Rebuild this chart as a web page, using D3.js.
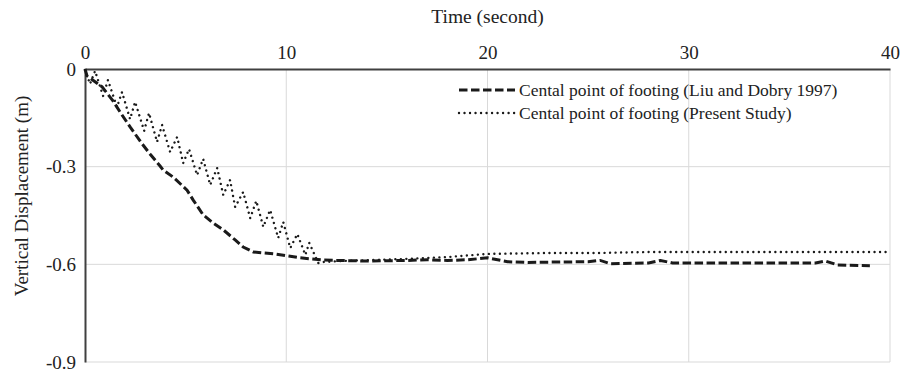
<!DOCTYPE html>
<html lang="en">
<head>
<meta charset="utf-8">
<title>Vertical displacement</title>
<script src="https://d3js.org/d3.v7.min.js"></script>
<style>
body { margin: 0; background: #fff; }
svg text { font-family: "Liberation Serif", "Times New Roman", serif; fill: #222; }
.grid line { stroke: #d9d9d9; stroke-width: 1; }
</style>
</head>
<body>
<script>
// time (s) and displacement (m)
var liuTime = [0, 0.1, 0.85, 1.39, 1.74, 2.24, 2.84, 3.23, 3.73, 3.88, 4.38, 5.07, 5.37, 5.87, 6.37, 6.87,
  7.46, 7.86, 8.36, 8.86, 9.45, 10.05, 10.7, 11.84, 14, 16, 17, 18, 19, 20, 21, 22, 25, 25.6, 26.1,
  28, 28.6, 29.2, 33, 36.3, 36.8, 37.4, 39];
var liuDisp = [0, -0.021, -0.055, -0.098, -0.132, -0.178, -0.23, -0.261, -0.298, -0.31, -0.332, -0.372,
  -0.402, -0.448, -0.473, -0.494, -0.525, -0.547, -0.562, -0.565, -0.568, -0.574, -0.58, -0.587,
  -0.59, -0.588, -0.586, -0.588, -0.586, -0.58, -0.592, -0.594, -0.592, -0.588, -0.598, -0.596,
  -0.588, -0.596, -0.596, -0.596, -0.59, -0.602, -0.604];

var presentTime = [0, 0.25, 0.5, 0.9, 1.14, 1.59, 1.84, 2.24, 2.49, 2.94, 3.18, 3.58, 3.83, 4.23, 4.58,
  4.88, 5.17, 5.57, 5.87, 6.22, 6.57, 6.87, 7.21, 7.46, 7.86, 8.21, 8.51, 8.86, 9.2, 9.6, 9.85,
  10.2, 10.55, 10.95, 11.14, 11.59, 11.84, 12.69, 15.67, 18.16, 20, 23.1, 25.6, 28.1, 40];
var presentDisp = [-0.003, -0.046, -0.006, -0.083, -0.034, -0.117, -0.071, -0.154, -0.101, -0.19,
  -0.135, -0.224, -0.172, -0.255, -0.209, -0.289, -0.246, -0.326, -0.276, -0.356, -0.304, -0.387,
  -0.341, -0.424, -0.378, -0.458, -0.405, -0.485, -0.433, -0.519, -0.47, -0.55, -0.507, -0.571,
  -0.534, -0.596, -0.593, -0.59, -0.584, -0.577, -0.568, -0.565, -0.565, -0.562, -0.562];

var xTicks = [0, 10, 20, 30, 40];
var yTicks = [0, -0.3, -0.6, -0.9];
var seriesNames = ["Cental point of footing (Liu and Dobry 1997)", "Cental point of footing (Present Study)"];

var w = 915, h = 371;
var padL = 85, padR = 890, padT = 69, padB = 362;

var svg = d3.select("body").append("svg")
  .attr("width", w)
  .attr("height", h);

var x = d3.scaleLinear().domain([0, 40]).range([padL, padR]);
var y = d3.scaleLinear().domain([0, -0.9]).range([padT, padB]);

// gridlines
var grid = svg.append("g").attr("class", "grid");
grid.selectAll("line.v")
  .data(xTicks.slice(1))
  .enter().append("line")
  .attr("class", "v")
  .attr("x1", function(d) { return x(d); })
  .attr("x2", function(d) { return x(d); })
  .attr("y1", padT)
  .attr("y2", padB);
grid.selectAll("line.h")
  .data(yTicks.slice(1))
  .enter().append("line")
  .attr("class", "h")
  .attr("x1", padL)
  .attr("x2", padR)
  .attr("y1", function(d) { return y(d); })
  .attr("y2", function(d) { return y(d); });

// axes
var xAxis = d3.axisTop(x).tickValues(xTicks).tickSize(0).tickPadding(10).tickFormat(d3.format("d"));
var yAxis = d3.axisLeft(y).tickValues(yTicks).tickSize(0).tickPadding(9)
  .tickFormat(function(d) { return d === 0 ? "0" : d3.format(".1f")(d).replace("\u2212", "-"); });

var gx = svg.append("g").attr("transform", "translate(0," + padT + ")").call(xAxis);
var gy = svg.append("g").attr("transform", "translate(" + padL + ",0)").call(yAxis);
[gx, gy].forEach(function(g) {
  g.select(".domain").attr("stroke", "#404040").attr("stroke-width", 2);
  g.selectAll("text").attr("font-family", "Liberation Serif").attr("font-size", 19).attr("fill", "#222");
});

svg.append("text")
  .attr("x", (padL + padR) / 2)
  .attr("y", 23)
  .attr("text-anchor", "middle")
  .attr("font-size", 19.5)
  .text("Time (second)");

svg.append("text")
  .attr("transform", "translate(28,196) rotate(-90)")
  .attr("text-anchor", "middle")
  .attr("font-size", 19)
  .text("Vertical Displacement (m)");

// lines
var line = d3.line()
  .x(function(d) { return x(d[0]); })
  .y(function(d) { return y(d[1]); });

svg.append("path")
  .datum(d3.zip(liuTime, liuDisp))
  .attr("d", line)
  .attr("fill", "none")
  .attr("stroke", "#1a1a1a")
  .attr("stroke-width", 3)
  .attr("stroke-dasharray", "8.5,3.5");

svg.append("path")
  .datum(d3.zip(presentTime, presentDisp))
  .attr("d", line)
  .attr("fill", "none")
  .attr("stroke", "#1a1a1a")
  .attr("stroke-width", 2.4)
  .attr("stroke-linecap", "round")
  .attr("stroke-dasharray", "0.01,5.5");

// legend
var legend = svg.append("g");
var styles = [
  { dash: "8.5,3.5", width: 3, cap: "butt" },
  { dash: "0.01,5.5", width: 2.4, cap: "round" }
];
seriesNames.forEach(function(name, i) {
  var ly = 90 + i * 23;
  legend.append("line")
    .attr("x1", 459).attr("x2", 515)
    .attr("y1", ly).attr("y2", ly)
    .attr("stroke", "#1a1a1a")
    .attr("stroke-width", styles[i].width)
    .attr("stroke-linecap", styles[i].cap)
    .attr("stroke-dasharray", styles[i].dash);
  legend.append("text")
    .attr("x", 519)
    .attr("y", ly + 6)
    .attr("font-size", 17.5)
    .text(name);
});
</script>
</body>
</html>
